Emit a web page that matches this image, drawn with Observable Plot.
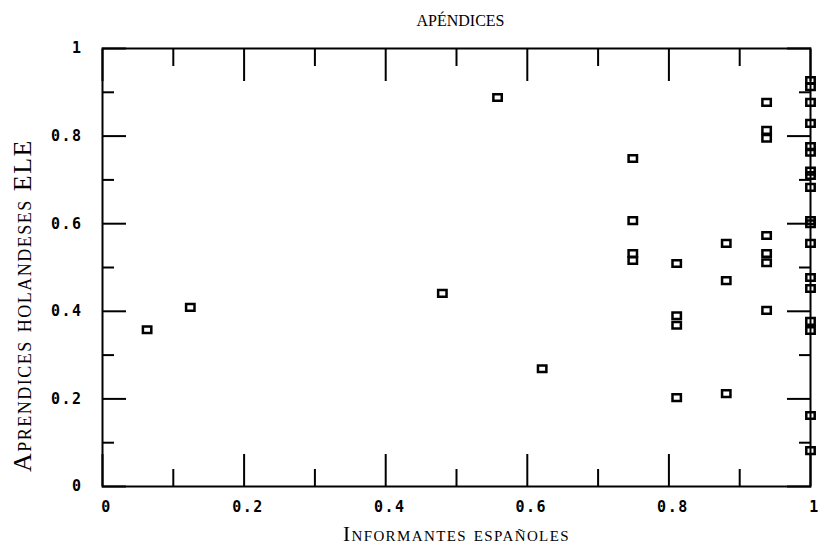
<!DOCTYPE html>
<html>
<head>
<meta charset="utf-8">
<script src="https://cdn.jsdelivr.net/npm/d3@7"></script>
<script src="https://cdn.jsdelivr.net/npm/@observablehq/plot@0.6"></script>
<style>
  html, body { margin: 0; padding: 0; background: #fff; }
  #chart svg { display: block; }
  text.tick-lab { letter-spacing: 1.5px; }
  text.x-title { letter-spacing: 1.4px; }
  text.y-title { letter-spacing: 1.5px; }
</style>
</head>
<body>
<div id="chart"></div>
<script>
// ---- data ----
const pointX = [0.063, 0.124, 0.480, 0.558, 0.621,
  0.749, 0.749, 0.749, 0.749,
  0.811, 0.811, 0.811, 0.811,
  0.881, 0.881, 0.881,
  0.938, 0.938, 0.938, 0.938, 0.938, 0.938, 0.938,
  1, 1, 1, 1, 1, 1, 1, 1, 1, 1, 1, 1, 1, 1, 1, 1, 1, 1];
const pointY = [0.358, 0.409, 0.441, 0.888, 0.269,
  0.749, 0.607, 0.532, 0.516,
  0.509, 0.390, 0.368, 0.203,
  0.555, 0.470, 0.212,
  0.877, 0.813, 0.795, 0.573, 0.532, 0.511, 0.402,
  0.927, 0.913, 0.877, 0.829, 0.776, 0.763, 0.720, 0.710, 0.683, 0.607, 0.600, 0.555, 0.477, 0.452, 0.377, 0.356, 0.162, 0.082];
const majorTicks = [0, 0.2, 0.4, 0.6, 0.8, 1];
const minorTicks = [0.1, 0.3, 0.5, 0.7, 0.9];
const tickLabels = ["0", "0.2", "0.4", "0.6", "0.8", "1"];
const title = "APÉNDICES";
const xTitle = "Informantes españoles";
const yTitle = "Aprendices holandeses ELE";

const points = pointX.map((x, i) => ({x, y: pointY[i]}));
const labelOf = d => tickLabels[majorTicks.indexOf(d)];

const rectSymbol = { draw(ctx) { ctx.rect(-4.2, -3.3, 8.4, 6.6); } };
const tickFont = "DejaVu Sans Mono";
const serif = "Liberation Serif";

const chart = Plot.plot({
  width: 822,
  height: 557,
  marginLeft: 102,
  marginRight: 12,
  marginTop: 48,
  marginBottom: 71,
  x: {domain: [0, 1]},
  y: {domain: [0, 1]},
  style: {background: "#fff", color: "#000"},
  marks: [
    Plot.frame({stroke: "#000", strokeWidth: 2}),
    // inward ticks
    Plot.axisX(majorTicks, {anchor: "bottom", tickSize: -32, tickFormat: () => "", strokeWidth: 2, label: null}),
    Plot.axisX(minorTicks, {anchor: "bottom", tickSize: -17, tickFormat: () => "", strokeWidth: 2, label: null}),
    Plot.axisX(majorTicks, {anchor: "top", tickSize: -32, tickFormat: () => "", strokeWidth: 2, label: null}),
    Plot.axisX(minorTicks, {anchor: "top", tickSize: -17, tickFormat: () => "", strokeWidth: 2, label: null}),
    Plot.axisY(majorTicks, {anchor: "left", tickSize: -24, tickFormat: () => "", strokeWidth: 2, label: null}),
    Plot.axisY(minorTicks, {anchor: "left", tickSize: -12, tickFormat: () => "", strokeWidth: 2, label: null}),
    Plot.axisY(majorTicks, {anchor: "right", tickSize: -24, tickFormat: () => "", strokeWidth: 2, label: null}),
    Plot.axisY(minorTicks, {anchor: "right", tickSize: -12, tickFormat: () => "", strokeWidth: 2, label: null}),
    // tick labels
    Plot.axisX(majorTicks, {anchor: "bottom", tickSize: 0, tickPadding: 15, tickFormat: labelOf, label: null,
      fontFamily: tickFont, fontWeight: "bold", fontSize: 15, dx: 4}),
    Plot.axisY(majorTicks, {anchor: "left", tickSize: 0, tickPadding: 20, tickFormat: labelOf, label: null,
      fontFamily: tickFont, fontWeight: "bold", fontSize: 15}),
    // points
    Plot.dot(points, {x: "x", y: "y", symbol: rectSymbol, r: 4, stroke: "#000", strokeWidth: 2.5, fill: "none"}),
    // titles
    Plot.text([title], {text: d => d, frameAnchor: "top", textAnchor: "middle", dy: -34, dx: 4, fontFamily: serif,
      fontSize: 16, fill: "#000"}),
    Plot.text([xTitle], {text: d => d, frameAnchor: "bottom", textAnchor: "middle", dy: 54, dx: 0, fontFamily: serif,
      fontSize: 21, fontVariant: "small-caps", fill: "#000"}),
    Plot.text([yTitle], {text: d => d, frameAnchor: "left", textAnchor: "middle", rotate: -90, dx: -80, dy: 38,
      fontFamily: serif, fontSize: 26, fontVariant: "small-caps", fill: "#000"})
  ]
});
// tag texts for letter-spacing
chart.querySelectorAll("text").forEach(t => {
  const s = t.textContent;
  if (s === xTitle) t.classList.add("x-title");
  else if (s === yTitle) t.classList.add("y-title");
  else if (tickLabels.includes(s)) t.classList.add("tick-lab");
});
document.getElementById("chart").appendChild(chart);
</script>
</body>
</html>
